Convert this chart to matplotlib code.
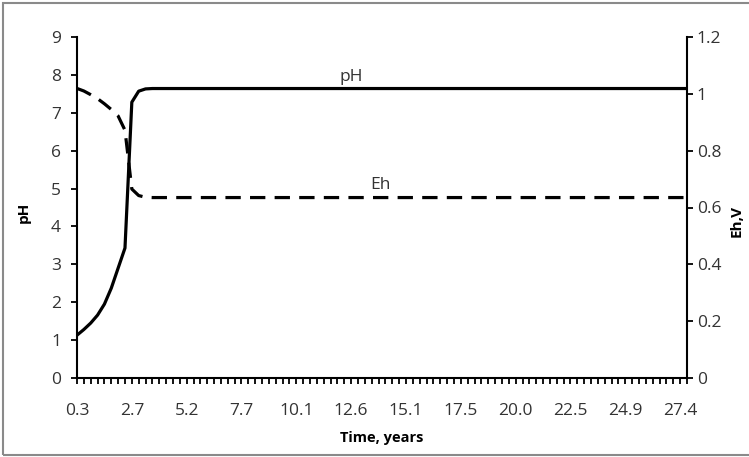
import matplotlib.pyplot as plt
from matplotlib.patches import Rectangle
from matplotlib.ticker import FixedLocator

plt.rcParams['font.family'] = ['Open Sans', 'DejaVu Sans']

# valores (eixo de categorias, um ponto por passo de tempo)
ph = [1.13, 1.28, 1.45, 1.66, 1.95, 2.37, 2.90, 3.43, 7.28, 7.57, 7.63] + [7.64] * 79
eh = [1.019, 1.010, 0.997, 0.983, 0.965, 0.945, 0.922, 0.872, 0.665, 0.642, 0.636] + [0.635] * 79

time_labels = ['0.3', '2.7', '5.2', '7.7', '10.1', '12.6', '15.1', '17.5',
               '20.0', '22.5', '24.9', '27.4']
label_step = 8

###############################################################################################
x = list(range(len(ph)))

fig = plt.figure(figsize=(7.49, 4.57), dpi=100)
ax = fig.add_axes([77 / 749, 1 - 378 / 457, 610 / 749, 341 / 457])
ax2 = ax.twinx()

ax.plot(x, ph, color='black', lw=2.3, solid_joinstyle='round')
ax2.plot(x, eh, color='black', lw=2.3, linestyle=(0, (4.8, 2.9)))

ax.set_xlim(0, len(ph) - 1)
ax.set_ylim(0, 9)
ax2.set_ylim(0, 1.2)

ax.set_xticks(x[::label_step][:len(time_labels)])
ax.set_xticklabels(time_labels)
ax.xaxis.set_minor_locator(FixedLocator(x))
ax.set_yticks(range(0, 10))
ax2.set_yticks([0, 0.2, 0.4, 0.6, 0.8, 1.0, 1.2])
ax2.set_yticklabels(['0', '0.2', '0.4', '0.6', '0.8', '1', '1.2'])

# eixos no estilo do Excel
for a in (ax, ax2):
    for s in a.spines.values():
        s.set_visible(False)
        s.set_linewidth(1.5)
ax.spines['left'].set_visible(True)
ax.spines['bottom'].set_visible(True)
ax2.spines['right'].set_visible(True)

ax.tick_params(axis='x', which='both', direction='out', length=4, width=1.3,
               labelsize=12.5, labelcolor='#333333', pad=14)
ax.tick_params(axis='y', direction='out', length=4, width=1.3,
               labelsize=12.5, labelcolor='#333333', pad=7.5)
ax2.tick_params(axis='y', direction='out', length=4, width=1.3,
                labelsize=12.5, labelcolor='#333333', pad=3)

ax.set_xlabel('Time, years', fontsize=10.5, fontweight='bold')
ax.xaxis.set_label_coords(0.5, -0.155)
ax.set_ylabel('pH', fontsize=11, fontweight='bold')
ax.yaxis.set_label_coords(-0.075, 0.485)
ax2.set_ylabel('Eh,V', fontsize=11, fontweight='bold', rotation=90)
ax2.yaxis.set_label_coords(1.07, 0.46)

ax.text(40.0, 7.94, 'pH', fontsize=12.5, ha='center', va='center', color='#333333')
ax2.text(44.2, 0.68, 'Eh', fontsize=12.5, ha='center', va='center', color='#333333')

# moldura cinza da area do grafico
fig.patches.append(Rectangle((3 / 749, 2 / 457), 1.0, 452 / 457, transform=fig.transFigure,
                             fill=False, edgecolor='#8a8a8a', lw=1.5))

fig.savefig('out.png', dpi=100)
